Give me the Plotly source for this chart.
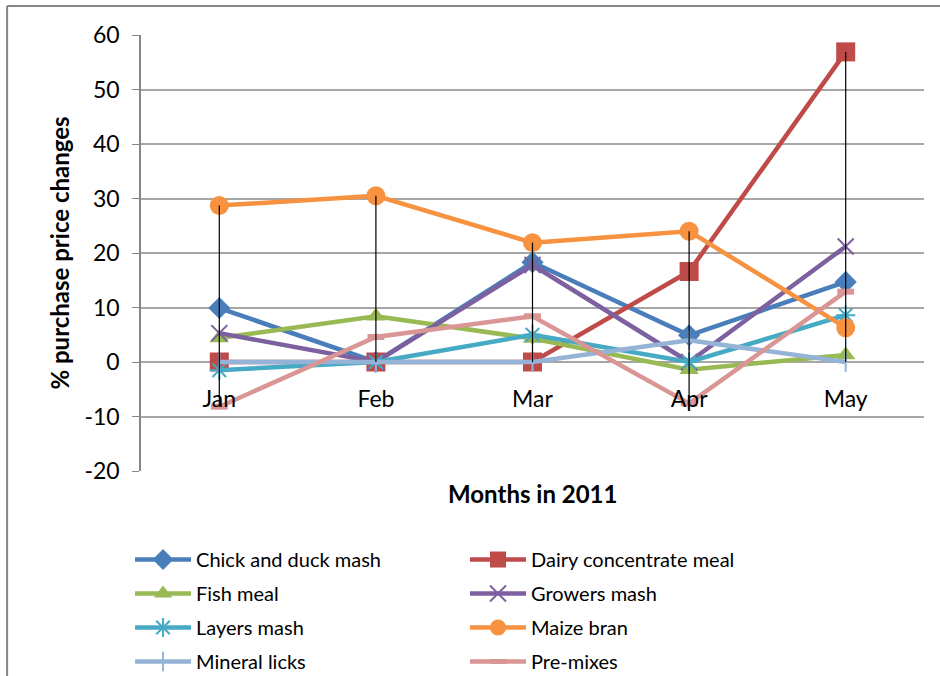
import numpy as np
import plotly.graph_objects as go

months = ["Jan", "Feb", "Mar", "Apr", "May"]

chick_duck_mash = [9.9, 0.0, 18.3, 4.9, 14.7]
dairy_concentrate_meal = [0.0, 0.0, 0.0, 16.6, 56.9]
fish_meal = [4.4, 8.4, 4.3, -1.4, 1.3]
growers_mash = [5.3, 0.0, 17.8, 0.0, 21.2]
layers_mash = [-1.5, 0.0, 5.0, 0.0, 8.6]
maize_bran = [28.7, 30.5, 21.9, 24.0, 6.3]
mineral_licks = [0.0, 0.0, 0.0, 4.0, 0.0]
pre_mixes = [-8.2, 4.6, 8.4, -7.6, 12.9]

y_tick_values = [-20, -10, 0, 10, 20, 30, 40, 50, 60]
y_tick_labels = ["-20", "-10", "0", "10", "20", "30", "40", "50", "60"]

series = [
    ("Chick and duck mash", chick_duck_mash, "#4A7EBB", "diamond", 17, 0),
    ("Dairy concentrate meal", dairy_concentrate_meal, "#BE4B48", "square", 19, 0),
    ("Fish meal", fish_meal, "#98B954", "triangle-up", 17, 0),
    ("Growers mash", growers_mash, "#7D60A0", "x-thin-open", 16, 2),
    ("Layers mash", layers_mash, "#46AAC5", "asterisk-open", 16, 2),
    ("Maize bran", maize_bran, "#F69240", "circle", 19, 0),
    ("Mineral licks", mineral_licks, "#95B3D7", "line-ns-open", 14, 2),
    ("Pre-mixes", pre_mixes, "#D99694", "line-ew-open", 12, 6),
]

fig = go.Figure()
for i, (name, vals, col, sym, size, lw) in enumerate(series):
    fig.add_trace(go.Scatter(
        x=months, y=vals, name=name, mode="lines+markers",
        line=dict(color=col, width=4.5),
        marker=dict(symbol=sym, size=size, color=col,
                    line=dict(color=col, width=lw)),
        legend="legend" if i % 2 == 0 else "legend2",
        legendgroup=name,
    ))

# high-low lines
allv = np.array([s[1] for s in series])
hi = allv.max(axis=0)
lo = allv.min(axis=0)
hx, hy = [], []
for m, h, l in zip(months, hi, lo):
    hx += [m, m, None]
    hy += [h, l, None]
fig.add_trace(go.Scatter(x=hx, y=hy, mode="lines", showlegend=False,
                         line=dict(color="black", width=1.2), hoverinfo="skip"))

FONT = "Lato, Carlito, Calibri, sans-serif"
legend_common = dict(xanchor="left", yanchor="top", orientation="v",
                     font=dict(size=20), itemwidth=56, tracegroupgap=5,
                     bgcolor="rgba(0,0,0,0)")
fig.update_layout(
    width=940, height=676,
    margin=dict(l=141, r=16, t=35, b=205, autoexpand=False),
    paper_bgcolor="white", plot_bgcolor="white",
    font=dict(family=FONT, color="black"),
    xaxis=dict(type="category", range=[-0.5, 4.5], anchor="free", position=0.25,
               showgrid=False, showline=False, zeroline=False,
               ticks="outside", ticklen=16, tickcolor="rgba(0,0,0,0)",
               tickfont=dict(size=23), automargin=False),
    yaxis=dict(range=[-20, 60], tickvals=y_tick_values, ticktext=y_tick_labels,
               showgrid=True, gridcolor="#A6A6A6",
               gridwidth=1.5, zeroline=False, showline=True, linecolor="#868686",
               linewidth=1.5, ticks="outside", ticklen=7, tickcolor="#868686",
               ticklabelstandoff=8, tickfont=dict(size=23), automargin=False,
               title=dict(text="<b>% purchase price changes</b>", font=dict(size=24),
                          standoff=8)),
    legend=dict(x=-0.0140, y=-0.1583, **legend_common),
    legend2=dict(x=0.4138, y=-0.1583, **legend_common),
    annotations=[dict(text="<b>Months in 2011</b>", x=0.5, y=-0.0505, xref="paper",
                      yref="paper", xanchor="center", yanchor="middle",
                      showarrow=False, font=dict(size=24))],
    shapes=[
        dict(type="line", xref="paper", yref="paper", x0=-0.171, x1=1.03,
             y0=1.0665, y1=1.0665, line=dict(color="#868686", width=2)),
        dict(type="line", xref="paper", yref="paper", x0=-0.171, x1=-0.171,
             y0=1.0665, y1=-0.5, line=dict(color="#868686", width=2)),
    ],
)

fig.write_html("out.html")
